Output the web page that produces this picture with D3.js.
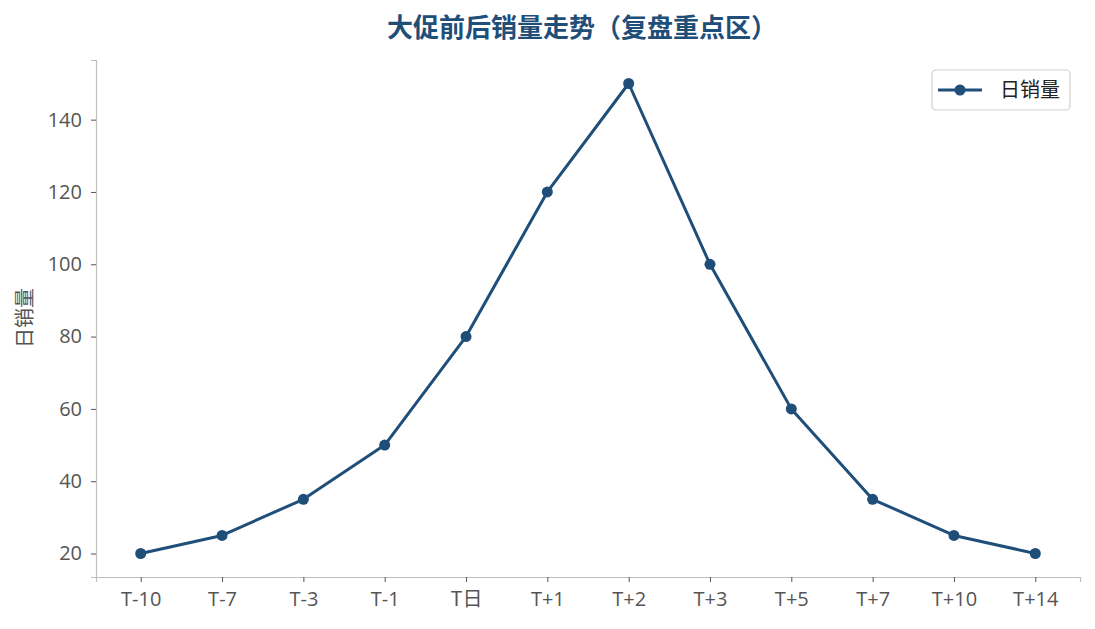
<!DOCTYPE html>
<html>
<head>
<meta charset="utf-8">
<script src="https://cdn.jsdelivr.net/npm/d3@7"></script>
<style>
  body { margin: 0; background: #fff; }
  svg { font-family: "Noto Sans CJK SC", "Noto Sans", sans-serif; }
</style>
</head>
<body>
<svg id="chart" width="1095" height="629"></svg>
<script>
const categorias = ["T-10", "T-7", "T-3", "T-1", "T日", "T+1", "T+2", "T+3", "T+5", "T+7", "T+10", "T+14"];
const ventas     = [20, 25, 35, 50, 80, 120, 150, 100, 60, 35, 25, 20];
const ticksY     = [20, 40, 60, 80, 100, 120, 140];

const color = '#1f4e79';
const margen = { top: 60, right: 15, bottom: 52, left: 96 };
const ancho = 1095, alto = 629;

const svg = d3.select('#chart');

const x = d3.scaleLinear()
  .domain([-0.55, categorias.length - 1 + 0.55])
  .range([margen.left, ancho - margen.right]);

const y = d3.scaleLinear()
  .domain([13.5, 156.5])
  .range([alto - margen.bottom, margen.top]);

// ejes
const ejeX = svg.append('g')
  .attr('transform', `translate(0,${alto - margen.bottom})`)
  .call(d3.axisBottom(x).tickValues(d3.range(categorias.length))
    .tickFormat(i => categorias[i]).tickSize(5).tickPadding(10));

const ejeY = svg.append('g')
  .attr('transform', `translate(${margen.left},0)`)
  .call(d3.axisLeft(y).tickValues(ticksY).tickSize(5).tickPadding(9));

[ejeX, ejeY].forEach(g => {
  g.select('.domain').attr('stroke', '#bfbfbf').attr('stroke-width', 1.2);
  g.selectAll('.tick line').attr('stroke', '#555');
  g.selectAll('.tick text').attr('fill', '#555').style('font-size', '20px')
    .style('font-family', '"Open Sans", "Noto Sans CJK SC", sans-serif');
});
ejeX.selectAll('.tick text').filter(i => categorias[i] === 'T日')
  .style('font-family', '"Noto Sans CJK SC", sans-serif');

// linea
const linea = d3.line()
  .x((d, i) => x(i))
  .y(d => y(d));

svg.append('path')
  .datum(ventas)
  .attr('fill', 'none')
  .attr('stroke', color)
  .attr('stroke-width', 3)
  .attr('stroke-linejoin', 'round')
  .attr('d', linea);

svg.selectAll('circle.punto')
  .data(ventas)
  .join('circle')
  .attr('class', 'punto')
  .attr('cx', (d, i) => x(i))
  .attr('cy', d => y(d))
  .attr('r', 5.5)
  .attr('fill', color);

// titulo
svg.append('text')
  .attr('x', 582).attr('y', 37)
  .attr('text-anchor', 'middle')
  .attr('fill', color)
  .style('font-size', '26px')
  .style('font-weight', 'bold')
  .text('大促前后销量走势（复盘重点区）');

// etiqueta eje Y
svg.append('text')
  .attr('transform', 'translate(32,318) rotate(-90)')
  .attr('text-anchor', 'middle')
  .attr('fill', '#555')
  .style('font-size', '20px')
  .text('日销量');

// leyenda
const ley = svg.append('g').attr('transform', 'translate(932,70)');
ley.append('rect')
  .attr('width', 138).attr('height', 40).attr('rx', 4)
  .attr('fill', '#fff').attr('stroke', '#d0d0d0').attr('stroke-width', 1.2);
ley.append('line')
  .attr('x1', 6).attr('x2', 50).attr('y1', 20).attr('y2', 20)
  .attr('stroke', color).attr('stroke-width', 3);
ley.append('circle').attr('cx', 28).attr('cy', 20).attr('r', 5.5).attr('fill', color);
ley.append('text')
  .attr('x', 68).attr('y', 27)
  .attr('fill', '#222')
  .style('font-size', '20px')
  .text('日销量');
</script>
</body>
</html>
